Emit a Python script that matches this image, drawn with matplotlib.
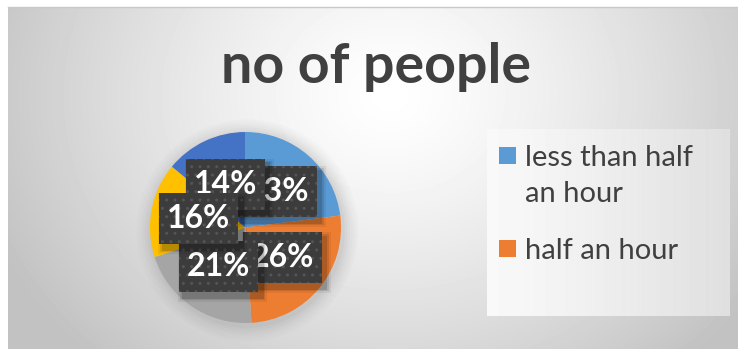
import numpy as np
import matplotlib.pyplot as plt
from matplotlib.patches import Rectangle
from matplotlib.transforms import ScaledTranslation

plt.rcParams['font.family'] = ['Lato', 'DejaVu Sans']

# time spent -> share of people (%)
categories = ["less than half\nan hour", "half an hour", "one hour", "two hours", "more than two hours"]
shares = [23, 26, 21, 16, 14]
colors = ['#5B9BD5', '#ED7D31', '#A5A5A5', '#FFC000', '#4472C4']
label_order = [1, 2, 3, 5, 4]  # stacking of the value boxes

W, H = 738, 349
fig = plt.figure(figsize=(W / 100, H / 100), dpi=100)

# chart area with a radial grey fill (pixel coordinates, y down)
bg = fig.add_axes([0, 0, 1, 1])
bg.axis('off')
xx, yy = np.meshgrid(np.arange(8, W), np.arange(7, H))
d = np.hypot((xx - 390) / 1.0, (yy - 95) / 0.85) / 430
shade = 1.0 - 0.24 * np.clip(d, 0, 1) ** 1.3
bg.imshow(shade, cmap='gray', vmin=0, vmax=1, extent=(8, W, H, 7), aspect='auto')
bg.plot([8, W], [7, 7], color='#c8c8c8', lw=1)

# legend panel
lx = np.linspace(0, 1, 240)
panel = np.tile(0.975 - 0.1 * lx ** 1.2, (187, 1))
bg.imshow(panel, cmap='gray', vmin=0, vmax=1, extent=(487, 730, 316, 129), aspect='auto')
bg.set_xlim(0, W)
bg.set_ylim(H, 0)

fig.text(0.51, 1 - 83 / H, "no of people", ha='center', va='baseline',
         fontsize=40, fontweight='bold', color='#404040')

# pie
cx, cy, r = 245.5, 227.5, 95.5
ax = fig.add_axes([(cx - r) / W, (H - cy - r) / H, 2 * r / W, 2 * r / H])

wedges, texts, autotexts = ax.pie(shares, colors=colors, startangle=90, counterclock=False,
                                  radius=1, autopct='%d%%', pctdistance=0.5,
                                  wedgeprops=dict(linewidth=0))
ax.set_xlim(-1, 1)
ax.set_ylim(-1, 1)
ax.axis('off')

# soft shadow ring around the pie
for k, a in zip(np.linspace(1.16, 1.02, 6), [0.03, 0.03, 0.04, 0.05, 0.06, 0.07]):
    ax.add_patch(plt.Circle((0.02, -0.03), k, color='#808080', alpha=a, lw=0,
                            zorder=0, clip_on=False))

# value boxes: fixed size in inches, centred on each label position
bw, bh = 0.79, 0.51
for t, z in zip(autotexts, label_order):
    x, y = t.get_position()
    at = fig.dpi_scale_trans + ScaledTranslation(x, y, ax.transData)
    for grow, alpha in [(0.10, 0.06), (0.06, 0.10), (0.03, 0.14)]:
        ax.add_patch(Rectangle((-bw / 2 + 0.04 - grow / 2, -bh / 2 - 0.05 - grow / 2),
                               bw + grow, bh + grow, transform=at, fc='black',
                               alpha=alpha, lw=0, zorder=10 + 3 * z, clip_on=False))
    ax.add_patch(Rectangle((-bw / 2, -bh / 2), bw, bh, transform=at, fc='#3c3c3c',
                           ec='#545454', lw=0, hatch='..', zorder=11 + 3 * z, clip_on=False))
    t.set_fontsize(23)
    t.set_fontweight('bold')
    t.set_color('white')
    t.set_zorder(12 + 3 * z)

# legend: first two categories, square key beside the first line of each label
legend_tops = [145, 238]
for name, col, top in zip(categories[:2], colors[:2], legend_tops):
    bg.add_patch(Rectangle((499, top + 2), 17, 17, fc=col, lw=0))
    bg.text(525, top, name, fontsize=21, color='#404040', va='top', ha='left',
            linespacing=1.5)

fig.savefig('out.png', dpi=100)
